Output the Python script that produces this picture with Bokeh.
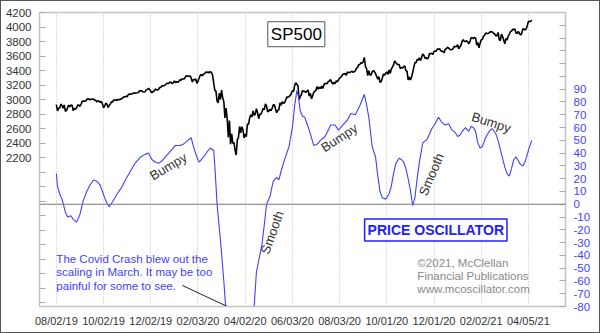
import numpy as np
from bokeh.plotting import figure
from bokeh.models import Range1d, LinearAxis, FixedTicker, Span, Label
from bokeh.embed import file_html
from bokeh.resources import INLINE

# ---------------- data ----------------
sp_dates = [
 "2019-08-02","2019-08-05","2019-08-06","2019-08-07","2019-08-08","2019-08-09","2019-08-12","2019-08-13","2019-08-14","2019-08-15",
 "2019-08-16","2019-08-19","2019-08-20","2019-08-21","2019-08-22","2019-08-23","2019-08-26","2019-08-27","2019-08-28","2019-08-29",
 "2019-08-30","2019-09-03","2019-09-04","2019-09-05","2019-09-06","2019-09-09","2019-09-10","2019-09-11","2019-09-12","2019-09-13",
 "2019-09-16","2019-09-17","2019-09-18","2019-09-19","2019-09-20","2019-09-23","2019-09-24","2019-09-25","2019-09-26","2019-09-27",
 "2019-09-30","2019-10-01","2019-10-02","2019-10-03","2019-10-04","2019-10-07","2019-10-08","2019-10-09","2019-10-10","2019-10-11",
 "2019-10-14","2019-10-15","2019-10-16","2019-10-17","2019-10-18","2019-10-21","2019-10-22","2019-10-23","2019-10-24","2019-10-25",
 "2019-10-28","2019-10-29","2019-10-30","2019-10-31","2019-11-01","2019-11-04","2019-11-05","2019-11-06","2019-11-07","2019-11-08",
 "2019-11-11","2019-11-12","2019-11-13","2019-11-14","2019-11-15","2019-11-18","2019-11-19","2019-11-20","2019-11-21","2019-11-22",
 "2019-11-25","2019-11-26","2019-11-27","2019-11-29","2019-12-02","2019-12-03","2019-12-04","2019-12-05","2019-12-06","2019-12-09",
 "2019-12-10","2019-12-11","2019-12-12","2019-12-13","2019-12-16","2019-12-17","2019-12-18","2019-12-19","2019-12-20","2019-12-23",
 "2019-12-24","2019-12-26","2019-12-27","2019-12-30","2019-12-31","2020-01-02","2020-01-03","2020-01-06","2020-01-07","2020-01-08",
 "2020-01-09","2020-01-10","2020-01-13","2020-01-14","2020-01-15","2020-01-16","2020-01-17","2020-01-21","2020-01-22","2020-01-23",
 "2020-01-24","2020-01-27","2020-01-28","2020-01-29","2020-01-30","2020-01-31","2020-02-03","2020-02-04","2020-02-05","2020-02-06",
 "2020-02-07","2020-02-10","2020-02-11","2020-02-12","2020-02-13","2020-02-14","2020-02-18","2020-02-19","2020-02-20","2020-02-21",
 "2020-02-24","2020-02-25","2020-02-26","2020-02-27","2020-02-28","2020-03-02","2020-03-03","2020-03-04","2020-03-05","2020-03-06",
 "2020-03-09","2020-03-10","2020-03-11","2020-03-12","2020-03-13","2020-03-16","2020-03-17","2020-03-18","2020-03-19","2020-03-20",
 "2020-03-23","2020-03-24","2020-03-25","2020-03-26","2020-03-27","2020-03-30","2020-03-31","2020-04-01","2020-04-02","2020-04-03",
 "2020-04-06","2020-04-07","2020-04-08","2020-04-09","2020-04-13","2020-04-14","2020-04-15","2020-04-16","2020-04-17","2020-04-20",
 "2020-04-21","2020-04-22","2020-04-23","2020-04-24","2020-04-27","2020-04-28","2020-04-29","2020-04-30","2020-05-01","2020-05-04",
 "2020-05-05","2020-05-06","2020-05-07","2020-05-08","2020-05-11","2020-05-12","2020-05-13","2020-05-14","2020-05-15","2020-05-18",
 "2020-05-19","2020-05-20","2020-05-21","2020-05-22","2020-05-26","2020-05-27","2020-05-28","2020-05-29","2020-06-01","2020-06-02",
 "2020-06-03","2020-06-04","2020-06-05","2020-06-08","2020-06-09","2020-06-10","2020-06-11","2020-06-12","2020-06-15","2020-06-16",
 "2020-06-17","2020-06-18","2020-06-19","2020-06-22","2020-06-23","2020-06-24","2020-06-25","2020-06-26","2020-06-29","2020-06-30",
 "2020-07-01","2020-07-02","2020-07-06","2020-07-07","2020-07-08","2020-07-09","2020-07-10","2020-07-13","2020-07-14","2020-07-15",
 "2020-07-16","2020-07-17","2020-07-20","2020-07-21","2020-07-22","2020-07-23","2020-07-24","2020-07-27","2020-07-28","2020-07-29",
 "2020-07-30","2020-07-31","2020-08-03","2020-08-04","2020-08-05","2020-08-06","2020-08-07","2020-08-10","2020-08-11","2020-08-12",
 "2020-08-13","2020-08-14","2020-08-17","2020-08-18","2020-08-19","2020-08-20","2020-08-21","2020-08-24","2020-08-25","2020-08-26",
 "2020-08-27","2020-08-28","2020-08-31","2020-09-01","2020-09-02","2020-09-03","2020-09-04","2020-09-08","2020-09-09","2020-09-10",
 "2020-09-11","2020-09-14","2020-09-15","2020-09-16","2020-09-17","2020-09-18","2020-09-21","2020-09-22","2020-09-23","2020-09-24",
 "2020-09-25","2020-09-28","2020-09-29","2020-09-30","2020-10-01","2020-10-02","2020-10-05","2020-10-06","2020-10-07","2020-10-08",
 "2020-10-09","2020-10-12","2020-10-13","2020-10-14","2020-10-15","2020-10-16","2020-10-19","2020-10-20","2020-10-21","2020-10-22",
 "2020-10-23","2020-10-26","2020-10-27","2020-10-28","2020-10-29","2020-10-30","2020-11-02","2020-11-03","2020-11-04","2020-11-05",
 "2020-11-06","2020-11-09","2020-11-10","2020-11-11","2020-11-12","2020-11-13","2020-11-16","2020-11-17","2020-11-18","2020-11-19",
 "2020-11-20","2020-11-23","2020-11-24","2020-11-25","2020-11-27","2020-11-30","2020-12-01","2020-12-02","2020-12-03","2020-12-04",
 "2020-12-07","2020-12-08","2020-12-09","2020-12-10","2020-12-11","2020-12-14","2020-12-15","2020-12-16","2020-12-17","2020-12-18",
 "2020-12-21","2020-12-22","2020-12-23","2020-12-24","2020-12-28","2020-12-29","2020-12-30","2020-12-31","2021-01-04","2021-01-05",
 "2021-01-06","2021-01-07","2021-01-08","2021-01-11","2021-01-12","2021-01-13","2021-01-14","2021-01-15","2021-01-19","2021-01-20",
 "2021-01-21","2021-01-22","2021-01-25","2021-01-26","2021-01-27","2021-01-28","2021-01-29","2021-02-01","2021-02-02","2021-02-03",
 "2021-02-04","2021-02-05","2021-02-08","2021-02-09","2021-02-10","2021-02-11","2021-02-12","2021-02-16","2021-02-17","2021-02-18",
 "2021-02-19","2021-02-22","2021-02-23","2021-02-24","2021-02-25","2021-02-26","2021-03-01","2021-03-02","2021-03-03","2021-03-04",
 "2021-03-05","2021-03-08","2021-03-09","2021-03-10","2021-03-11","2021-03-12","2021-03-15","2021-03-16","2021-03-17","2021-03-18",
 "2021-03-19","2021-03-22","2021-03-23","2021-03-24","2021-03-25","2021-03-26","2021-03-29","2021-03-30","2021-03-31","2021-04-01",
 "2021-04-05","2021-04-06","2021-04-07","2021-04-08",
]
sp_close = [
 2932,2845,2882,2884,2938,2919,2883,2926,2841,2848,
 2889,2924,2901,2924,2923,2847,2878,2869,2888,2925,
 2926,2906,2938,2976,2979,2978,2979,3001,3010,3007,
 2998,3006,3007,3007,2992,2992,2967,2985,2978,2962,
 2977,2940,2888,2911,2952,2939,2893,2919,2938,2970,
 2966,2996,2990,2998,2986,3007,2996,3005,3010,3023,
 3039,3037,3047,3038,3067,3078,3075,3077,3085,3093,
 3087,3092,3094,3097,3120,3122,3120,3108,3104,3110,
 3134,3141,3154,3141,3114,3093,3113,3117,3146,3136,
 3133,3142,3169,3169,3191,3193,3191,3205,3221,3224,
 3223,3240,3240,3221,3231,3258,3235,3246,3237,3253,
 3275,3265,3288,3283,3289,3317,3330,3321,3322,3326,
 3295,3244,3276,3273,3284,3226,3249,3298,3335,3346,
 3328,3352,3358,3379,3374,3380,3370,3386,3373,3338,
 3226,3128,3116,2979,2954,3090,3003,3130,3024,2972,
 2747,2882,2741,2481,2711,2386,2529,2398,2409,2305,
 2237,2447,2476,2630,2541,2627,2585,2471,2527,2489,
 2664,2659,2750,2790,2762,2846,2783,2800,2875,2823,
 2737,2799,2798,2837,2878,2863,2940,2912,2831,2843,
 2868,2848,2881,2930,2930,2870,2820,2853,2864,2954,
 2923,2972,2949,2955,2992,3036,3030,3044,3056,3081,
 3123,3112,3194,3232,3207,3190,3002,3041,3067,3125,
 3113,3115,3098,3118,3131,3050,3084,3009,3053,3100,
 3116,3130,3180,3145,3170,3152,3185,3155,3198,3227,
 3216,3225,3252,3257,3276,3236,3216,3239,3218,3258,
 3246,3271,3295,3307,3328,3349,3351,3360,3334,3380,
 3373,3373,3382,3390,3375,3386,3397,3431,3444,3479,
 3485,3508,3500,3527,3581,3455,3427,3332,3399,3339,
 3341,3384,3401,3385,3357,3319,3281,3316,3237,3247,
 3298,3352,3335,3363,3381,3348,3409,3361,3419,3447,
 3477,3534,3512,3489,3483,3484,3427,3443,3436,3453,
 3465,3401,3391,3271,3310,3270,3310,3369,3443,3510,
 3509,3551,3546,3573,3537,3585,3627,3610,3568,3582,
 3558,3578,3635,3630,3638,3622,3662,3669,3667,3699,
 3692,3702,3673,3668,3663,3647,3695,3701,3722,3709,
 3695,3687,3690,3703,3735,3727,3732,3756,3701,3727,
 3748,3804,3825,3800,3801,3810,3796,3768,3799,3852,
 3853,3841,3855,3850,3751,3787,3714,3774,3826,3830,
 3872,3887,3916,3911,3910,3916,3935,3933,3931,3914,
 3907,3877,3881,3925,3829,3811,3902,3870,3820,3768,
 3842,3821,3875,3899,3939,3943,3969,3963,3974,3915,
 3913,3941,3911,3889,3910,3975,3971,3959,3973,4020,
 4078,4074,4080,4097,
]
# Price oscillator: bar number (trading days since 08/02/19), value
osc_bar = [0, 1, 3, 5, 8, 10, 13, 15, 18, 21, 24, 27, 30, 33, 36, 39, 41, 43, 45, 47,
           50, 54, 58, 62, 66, 70, 75, 79, 82, 85, 88, 91, 94, 97, 101, 106, 110, 113, 117, 120,
           122, 125, 127, 131, 135, 137, 140, 141, 143, 146, 149, 151, 155, 160, 165, 170, 174, 176, 178, 181,
           183, 185, 187, 190, 193, 196, 198, 200, 202, 205, 207, 210, 212, 214, 215, 217, 219, 221, 223, 225,
           229, 232, 235, 239, 242, 244, 248, 251, 255, 259, 262, 266, 270, 274, 276, 278, 281, 284, 286, 288,
           290, 293, 296, 298, 300, 302, 305, 307, 309, 311, 313, 315, 317, 319, 321, 323, 326, 330, 334, 337,
           340, 343, 346, 349, 352, 355, 357, 359, 362, 364, 366, 367, 369, 371, 373, 375, 377, 379, 381, 383,
           386, 388, 391, 393, 395, 397, 399, 401, 403, 405, 407, 409, 411, 413, 415, 417, 419, 421, 423]
osc_val = [24, 14, 8, 4, -6, -10, -9, -12, -14, -8, 3, 10, 15, 19, 18, 15, 10, 5, 1, -2,
           2, 8, 13, 20, 26, 32, 37, 39, 40, 35, 33, 32, 34, 37, 41, 46, 46, 47, 50, 52,
           45, 37, 33, 37, 42, 44, 42, 30, 0, -28, -60, -85, -120, -140, -130, -110, -90, -80, -53, -40,
           -31, -16, 0, 6, 18, 21, 19, 26, 32, 40, 45, 60, 77, 89, 86, 73, 69, 68, 63, 58,
           46, 47, 50, 53, 58, 62, 62, 58, 62, 66, 71, 70, 77, 86, 78, 68, 45, 37, 22, 10,
           5, 4, 8, 14, 24, 32, 36, 35, 33, 28, 20, 11, -1, 5, 20, 33, 48, 51, 59, 63,
           68, 64, 62, 63, 58, 56, 53, 54, 58, 60, 58, 57, 61, 60, 57, 48, 44, 45, 50, 54,
           58, 59, 55, 50, 43, 36, 29, 24, 22, 28, 35, 37, 34, 31, 30, 33, 39, 45, 50]

tick_dates = ["2019-08-02", "2019-10-02", "2019-12-02", "2020-02-03", "2020-04-02", "2020-06-03",
              "2020-08-03", "2020-10-01", "2020-12-01", "2021-02-02", "2021-04-05"]
tick_labels = ["08/02/19", "10/02/19", "12/02/19", "02/03/20", "04/02/20", "06/03/20",
               "08/03/20", "10/01/20", "12/01/20", "02/02/21", "04/05/21"]
market_holidays = ["2019-09-02", "2019-11-28", "2019-12-25", "2020-01-01", "2020-01-20", "2020-02-17",
                   "2020-04-10", "2020-05-25", "2020-07-03", "2020-09-07", "2020-11-26", "2020-12-25",
                   "2021-01-01", "2021-01-18", "2021-02-15", "2021-04-02"]
left_ticks = list(range(200, 4201, 200))
right_ticks = list(range(-80, 141, 10))

# ---------------- chart ----------------
hol = np.array(market_holidays, dtype="datetime64[D]")
first = np.datetime64(tick_dates[0], "D")
sp_bar = np.busday_count(first, np.array(sp_dates, dtype="datetime64[D]"), holidays=hol)
tick_bar = [int(b) for b in np.busday_count(first, np.array(tick_dates, dtype="datetime64[D]"), holidays=hol)]

FONT = "Liberation Sans"
BLUE = "#3f3fff"

p = figure(frame_width=526, frame_height=294, output_backend="svg", toolbar_location=None,
           x_range=Range1d(-15, 453), y_range=Range1d(150, 4200))
p.min_border_left = 38
p.min_border_right = 34
p.min_border_top = 11
p.min_border_bottom = 26
p.styles = {"border": "1px solid #555555"}
p.background_fill_color = "white"
p.border_fill_color = "white"
p.outline_line_color = "#c4c4c4"
p.outline_line_width = 1.5

p.extra_y_ranges = {"osc": Range1d(-80, 150)}

# axes
p.xaxis.ticker = FixedTicker(ticks=tick_bar)
p.xaxis.major_label_overrides = {b: l for b, l in zip(tick_bar, tick_labels)}
p.xaxis.major_tick_in = 0
p.xaxis.major_tick_out = 0
p.xaxis.minor_tick_line_color = None
p.xaxis.axis_line_color = "#c4c4c4"
p.xaxis.major_label_standoff = 8
p.xaxis.major_label_text_font = FONT
p.xaxis.major_label_text_font_size = "11px"
p.xaxis.major_label_text_color = "#333333"

p.yaxis.ticker = FixedTicker(ticks=left_ticks)
p.yaxis.major_label_overrides = {t: (str(t) if t >= 2200 else "") for t in left_ticks}
p.yaxis.major_tick_in = 6
p.yaxis.major_tick_out = 0
p.yaxis.major_tick_line_color = "#aaaaaa"
p.yaxis.minor_tick_line_color = None
p.yaxis.axis_line_color = "#c4c4c4"
p.yaxis.major_label_standoff = 8
p.yaxis.major_label_text_font = FONT
p.yaxis.major_label_text_font_size = "11.5px"
p.yaxis.major_label_text_color = "#333333"

ra = LinearAxis(y_range_name="osc", ticker=FixedTicker(ticks=right_ticks))
ra.major_label_overrides = {t: (str(t) if t <= 90 else "") for t in right_ticks}
ra.major_tick_in = 6
ra.major_tick_out = 0
ra.major_tick_line_color = "#aaaaaa"
ra.minor_tick_line_color = None
ra.axis_line_color = "#c4c4c4"
ra.major_label_standoff = 8
ra.major_label_text_font = FONT
ra.major_label_text_font_size = "11.5px"
ra.major_label_text_color = BLUE
p.add_layout(ra, "right")

p.ygrid.grid_line_color = None
p.xgrid.grid_line_color = "#bdbdbd"
p.xgrid.grid_line_dash = "1 2"
p.xgrid.grid_line_width = 1

p.add_layout(Span(location=0, dimension="width", y_range_name="osc",
                  line_color="#777777", line_width=1))

# series
p.line(sp_bar, sp_close, line_color="black", line_width=1.6)
p.line(osc_bar, osc_val, y_range_name="osc", line_color=BLUE, line_width=1.1)

# annotations
def lab(x, y, text, **kw):
    opts = dict(x=x, y=y, text=text, y_range_name="osc", text_font=FONT,
                text_font_size="13px", text_color="#333333",
                text_align="center", text_baseline="middle")
    opts.update(kw)
    p.add_layout(Label(**opts))

lab(213.5, 133, "SP500", text_font_size="17px", text_color="black",
    border_line_color="#555555", border_line_width=1, background_fill_color="white", padding=3)
lab(337.6, -20.1, "PRICE OSCILLATOR", text_font_size="14px", text_font_style="bold",
    text_color="#2020ff", border_line_color="#2020ff", border_line_width=1.5,
    background_fill_color="white", padding=3)

lab(99.6, 29.6, "Bumpy", angle=31, angle_units="deg")
lab(251.8, 52, "Bumpy", angle=33, angle_units="deg")
lab(387, 64, "Bumpy", angle=-18, angle_units="deg")
lab(192, -22, "Smooth", angle=70, angle_units="deg")
lab(333.6, 23.3, "Smooth", angle=67, angle_units="deg")

for i, t in enumerate(["©2021, McClellan", "Financial Publications", "www.mcoscillator.com"]):
    lab(321.2, -46.3 - 10.2 * i, t, text_align="left", text_color="#8a8a8a", text_font_size="11.5px")
for i, t in enumerate(["The Covid Crash blew out the", "scaling in March. It may be too",
                       "painful for some to see."]):
    lab(0, -43.2 - 10.2 * i, t, text_align="left", text_color=BLUE, text_font_size="11.5px")

p.segment(x0=[112.1], y0=[-63.5], x1=[152.1], y1=[-80], y_range_name="osc",
          line_color="#222222", line_width=1)

open("out.html", "w").write(file_html(p, INLINE))
